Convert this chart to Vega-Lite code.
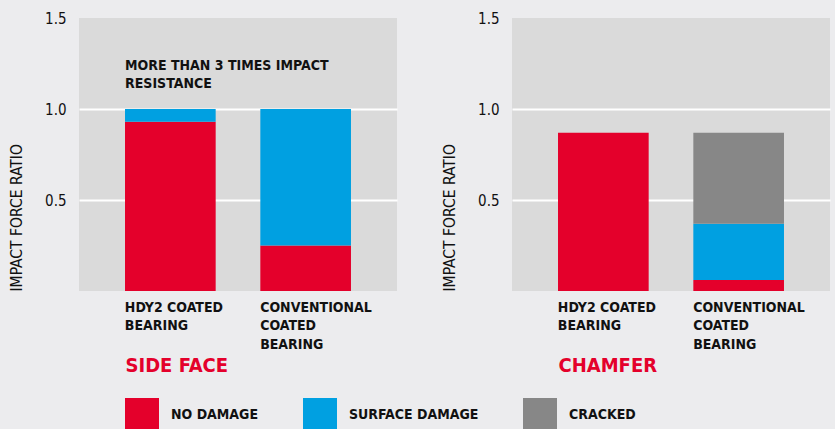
{
  "$schema": "https://vega.github.io/schema/vega-lite/v6.json",
  "background": "#ececee",
  "padding": {"left": 9, "top": 11, "right": 5, "bottom": 0},
  "datasets": {
    "bars": [
      {"face": "SIDE FACE", "bearing": "HDY2 COATED|BEARING", "damage": "NO DAMAGE", "severity": 1, "ratio": 0.93},
      {"face": "SIDE FACE", "bearing": "HDY2 COATED|BEARING", "damage": "SURFACE DAMAGE", "severity": 2, "ratio": 0.07},
      {"face": "SIDE FACE", "bearing": "CONVENTIONAL|COATED|BEARING", "damage": "NO DAMAGE", "severity": 1, "ratio": 0.25},
      {"face": "SIDE FACE", "bearing": "CONVENTIONAL|COATED|BEARING", "damage": "SURFACE DAMAGE", "severity": 2, "ratio": 0.75},
      {"face": "CHAMFER", "bearing": "HDY2 COATED|BEARING", "damage": "NO DAMAGE", "severity": 1, "ratio": 0.87},
      {"face": "CHAMFER", "bearing": "CONVENTIONAL|COATED|BEARING", "damage": "NO DAMAGE", "severity": 1, "ratio": 0.06},
      {"face": "CHAMFER", "bearing": "CONVENTIONAL|COATED|BEARING", "damage": "SURFACE DAMAGE", "severity": 2, "ratio": 0.31},
      {"face": "CHAMFER", "bearing": "CONVENTIONAL|COATED|BEARING", "damage": "CRACKED", "severity": 3, "ratio": 0.5}
    ],
    "notes": [
      {"bearing": "HDY2 COATED|BEARING", "ratio": 1.214, "note": "MORE THAN 3 TIMES IMPACT|RESISTANCE"}
    ]
  },
  "spacing": 45,
  "hconcat": [
    {
      "width": 318,
      "height": 273,
      "layer": [
        {
          "data": {"name": "bars"},
          "transform": [{"filter": "datum.face === 'SIDE FACE'"}],
          "mark": {"type": "bar"},
          "encoding": {
            "x": {
              "field": "bearing", "type": "nominal",
              "scale": {"domain": ["HDY2 COATED|BEARING", "CONVENTIONAL|COATED|BEARING"], "paddingInner": 0.33, "paddingOuter": 0.34},
              "axis": {"title": "SIDE FACE"}
            },
            "y": {
              "field": "ratio", "type": "quantitative", "stack": "zero",
              "scale": {"domain": [0, 1.5], "nice": false},
              "axis": {"title": "IMPACT FORCE RATIO", "values": [0.5, 1, 1.5]}
            },
            "color": {
              "field": "damage", "type": "nominal",
              "scale": {"domain": ["NO DAMAGE", "SURFACE DAMAGE", "CRACKED"], "range": ["#e4002b", "#00a0e1", "#878787"]},
              "legend": {"title": null}
            },
            "order": {"field": "severity", "type": "quantitative"}
          }
        },
        {
          "data": {"name": "notes"},
          "mark": {"type": "text", "align": "left", "baseline": "alphabetic", "lineBreak": "|", "fontSize": 14, "fontWeight": "bold", "lineHeight": 18, "color": "#111111"},
          "encoding": {
            "x": {"field": "bearing", "type": "nominal", "bandPosition": 0},
            "y": {"field": "ratio", "type": "quantitative"},
            "text": {"field": "note"}
          }
        }
      ]
    },
    {
      "width": 318,
      "height": 273,
      "data": {"name": "bars"},
      "transform": [{"filter": "datum.face === 'CHAMFER'"}],
      "mark": {"type": "bar"},
      "encoding": {
        "x": {
          "field": "bearing", "type": "nominal",
          "scale": {"domain": ["HDY2 COATED|BEARING", "CONVENTIONAL|COATED|BEARING"], "paddingInner": 0.33, "paddingOuter": 0.34},
          "axis": {"title": "CHAMFER"}
        },
        "y": {
          "field": "ratio", "type": "quantitative", "stack": "zero",
          "scale": {"domain": [0, 1.5], "nice": false},
          "axis": {"title": "IMPACT FORCE RATIO", "values": [0.5, 1, 1.5]}
        },
        "color": {
          "field": "damage", "type": "nominal",
          "scale": {"domain": ["NO DAMAGE", "SURFACE DAMAGE", "CRACKED"], "range": ["#e4002b", "#00a0e1", "#878787"]},
          "legend": {"title": null}
        },
        "order": {"field": "severity", "type": "quantitative"}
      }
    }
  ],
  "config": {
    "font": "DejaVu Sans Condensed",
    "view": {"fill": "#dadada", "stroke": null},
    "axisX": {
      "domain": false, "ticks": false, "grid": false,
      "labelAngle": 0, "labelAlign": "left", "labelBaseline": "top", "labelOffset": -45.5,
      "labelPadding": 9, "labelFontSize": 14, "labelFontWeight": "bold", "labelColor": "#111111",
      "labelLineHeight": 18.5, "labelExpr": "split(datum.label, '|')", "labelLimit": 300,
      "titleColor": "#e4002b", "titleFontSize": 20, "titleFontWeight": "bold",
      "titleAnchor": "start", "titleAlign": "left", "titleBaseline": "top", "titleX": 46, "titleY": 64
    },
    "axisY": {
      "domain": false, "ticks": false, "format": ".1f",
      "grid": true, "gridColor": {"condition": {"test": "datum.value >= 1.5", "value": "transparent"}, "value": "#ffffff"}, "gridWidth": 2,
      "labelPadding": 13, "labelFontSize": 15, "labelColor": "#111111",
      "titleFontSize": 15.5, "titleFontWeight": "normal", "titleColor": "#111111",
      "titleAnchor": "start", "titlePadding": 20
    },
    "legend": {
      "orient": "none", "direction": "horizontal", "legendX": 46, "legendY": 380,
      "symbolType": "square", "symbolSize": 1156, "symbolStrokeWidth": 0, "symbolOpacity": 1,
      "labelFontSize": 14, "labelFontWeight": "bold", "labelColor": "#111111", "labelOffset": 12,
      "columnPadding": 44
    }
  }
}
